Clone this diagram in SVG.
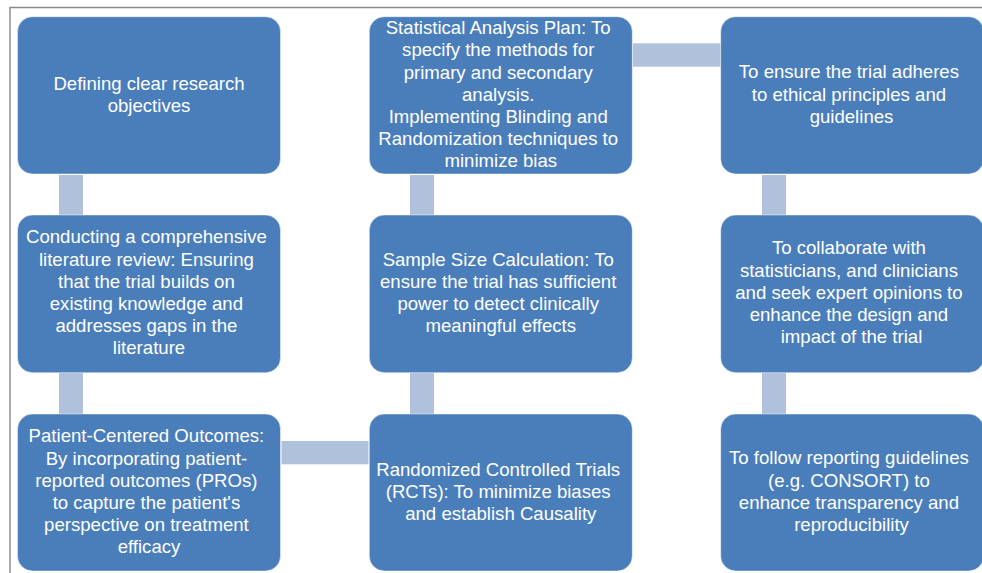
<svg xmlns="http://www.w3.org/2000/svg" width="982" height="573" viewBox="0 0 982 573">
  <style>
    .box { fill: #4a7ebb; stroke: #ffffff; stroke-opacity: 0.45; stroke-width: 1; }
    .bar { fill: #b0c1dc; }
    .frame { fill: none; stroke: #8a8a8a; stroke-width: 1.4; }
    text { font-family: "Liberation Sans", Arial, sans-serif; font-size: 18.6px; fill: #ffffff; text-anchor: middle; }
  </style>

  <!-- outer frame (top and left edges) -->
  <path class="frame" d="M10 573 V7.5 H982"/>

  <!-- connector bars -->
  <g id="connectors">
    <rect class="bar" x="59" y="175" width="24" height="40"/>
    <rect class="bar" x="59" y="373" width="24" height="41"/>
    <rect class="bar" x="410" y="175" width="24" height="40"/>
    <rect class="bar" x="410" y="373" width="24" height="41"/>
    <rect class="bar" x="762" y="175" width="24" height="40"/>
    <rect class="bar" x="762" y="373" width="24" height="41"/>
    <rect class="bar" x="633" y="43.3" width="87.5" height="23.4"/>
    <rect class="bar" x="281.5" y="441" width="87" height="23.3"/>
  </g>

  <!-- column 1 -->
  <g id="objectives">
    <rect class="box" x="17.5" y="16.7" width="263" height="157.3" rx="15"/>
    <text x="149" y="89.6"><tspan x="149">Defining clear research</tspan><tspan x="149" dy="22.2">objectives</tspan></text>
  </g>
  <g id="literature-review">
    <rect class="box" x="17.5" y="215" width="263" height="157.7" rx="15"/>
    <text x="149" y="243.4">
      <tspan x="149">Conducting a comprehensive</tspan>
      <tspan x="149" dy="22.2">literature review: Ensuring</tspan>
      <tspan x="149" dy="22.2">that the trial builds on</tspan>
      <tspan x="149" dy="22.2">existing knowledge and</tspan>
      <tspan x="149" dy="22.2">addresses gaps in the</tspan>
      <tspan x="149" dy="22.2">literature</tspan>
    </text>
  </g>
  <g id="patient-outcomes">
    <rect class="box" x="17.5" y="414" width="263" height="157" rx="15"/>
    <text x="149" y="442.4">
      <tspan x="149">Patient-Centered Outcomes:</tspan>
      <tspan x="149" dy="22.2">By incorporating patient-</tspan>
      <tspan x="149" dy="22.2">reported outcomes (PROs)</tspan>
      <tspan x="149" dy="22.2">to capture the patient's</tspan>
      <tspan x="149" dy="22.2">perspective on treatment</tspan>
      <tspan x="149" dy="22.2">efficacy</tspan>
    </text>
  </g>

  <!-- column 2 -->
  <g id="analysis-plan">
    <rect class="box" x="369.3" y="16.7" width="263" height="157.3" rx="15"/>
    <text x="500.8" y="34.2">
      <tspan x="500.8">Statistical Analysis Plan: To</tspan>
      <tspan x="500.8" dy="22.2">specify the methods for</tspan>
      <tspan x="500.8" dy="22.2">primary and secondary</tspan>
      <tspan x="500.8" dy="22.2">analysis.</tspan>
      <tspan x="500.8" dy="22.2">Implementing Blinding and</tspan>
      <tspan x="500.8" dy="22.2">Randomization techniques to</tspan>
      <tspan x="500.8" dy="22.2">minimize bias</tspan>
    </text>
  </g>
  <g id="sample-size">
    <rect class="box" x="369.3" y="215" width="263" height="157.7" rx="15"/>
    <text x="500.8" y="265.8">
      <tspan x="500.8">Sample Size Calculation: To</tspan>
      <tspan x="500.8" dy="22.2">ensure the trial has sufficient</tspan>
      <tspan x="500.8" dy="22.2">power to detect clinically</tspan>
      <tspan x="500.8" dy="22.2">meaningful effects</tspan>
    </text>
  </g>
  <g id="rcts">
    <rect class="box" x="369.3" y="414" width="263" height="157" rx="15"/>
    <text x="500.8" y="475.6">
      <tspan x="500.8">Randomized Controlled Trials</tspan>
      <tspan x="500.8" dy="22.2">(RCTs): To minimize biases</tspan>
      <tspan x="500.8" dy="22.2">and establish Causality</tspan>
    </text>
  </g>

  <!-- column 3 -->
  <g id="ethics">
    <rect class="box" x="720.7" y="16.7" width="263" height="157.3" rx="15"/>
    <text x="851.5" y="78.4">
      <tspan x="851.5">To ensure the trial adheres</tspan>
      <tspan x="851.5" dy="22.2">to ethical principles and</tspan>
      <tspan x="851.5" dy="22.2">guidelines</tspan>
    </text>
  </g>
  <g id="collaboration">
    <rect class="box" x="720.7" y="215" width="263" height="157.7" rx="15"/>
    <text x="851.5" y="254.4">
      <tspan x="851.5">To collaborate with</tspan>
      <tspan x="851.5" dy="22.2">statisticians, and clinicians</tspan>
      <tspan x="851.5" dy="22.2">and seek expert opinions to</tspan>
      <tspan x="851.5" dy="22.2">enhance the design and</tspan>
      <tspan x="851.5" dy="22.2">impact of the trial</tspan>
    </text>
  </g>
  <g id="reporting">
    <rect class="box" x="720.7" y="414" width="263" height="157" rx="15"/>
    <text x="851.5" y="464.4">
      <tspan x="851.5">To follow reporting guidelines</tspan>
      <tspan x="851.5" dy="22.2">(e.g. CONSORT) to</tspan>
      <tspan x="851.5" dy="22.2">enhance transparency and</tspan>
      <tspan x="851.5" dy="22.2">reproducibility</tspan>
    </text>
  </g>
</svg>
